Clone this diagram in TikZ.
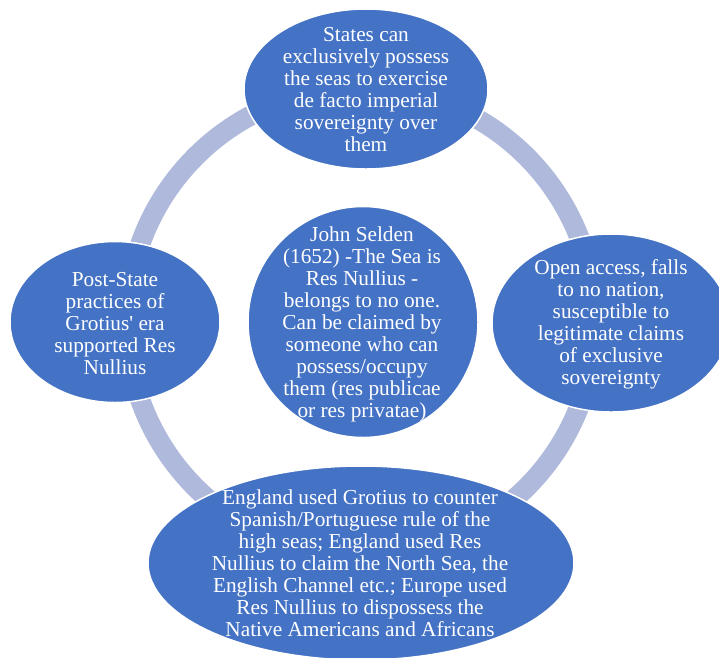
\documentclass[tikz,border=0pt]{standalone}
\usepackage{fontspec}
\setmainfont{Liberation Serif}
\usetikzlibrary{shapes.geometric}

\definecolor{bubbleblue}{HTML}{4472C4}
\definecolor{ringblue}{HTML}{AEB9DB}

\begin{document}
\begin{tikzpicture}[
    x=1pt, y=-1pt,
    bubble/.style={
      ellipse,
      fill=bubbleblue,
      draw=white,
      line width=1.5pt,
      inner sep=0pt
    },
    txt/.style={
      text=white,
      align=center,
      inner sep=0pt,
      font=\fontsize{21.3}{22}\selectfont
    },
    ring/.style={
      draw=ringblue,
      line width=20pt
    }
  ]

  \useasboundingbox (0,0) rectangle (719,657);

  % Vòng tròn nền
  \coordinate (hub) at (361,322);
  \draw[ring] (hub) circle[radius=234pt];

  % Các ellipse
  \node[bubble, minimum width=244pt, minimum height=160pt] (top) at (366,89) {};
  \node[bubble, minimum width=238pt, minimum height=178pt] (right) at (611,323) {};
  \node[bubble, minimum width=426pt, minimum height=194pt] (bottom) at (361,563) {};
  \node[bubble, minimum width=210pt, minimum height=161pt] (left) at (115,322) {};
  \node[bubble, minimum width=230pt, minimum height=231pt] (centre) at (363,322) {};

  % Chữ trong ellipse
  \node[txt] (toptext) at (366,90) {States can\\exclusively possess\\the seas to exercise\\de facto imperial\\sovereignty over\\them};
  \node[txt] (righttext) at (611,324) {Open access, falls\\to no nation,\\susceptible to\\legitimate claims\\of exclusive\\sovereignty};
  \node[txt] (bottomtext) at (360,563) {England used Grotius to counter\\Spanish/Portuguese rule of the\\high seas; England used Res\\Nullius to claim the North Sea, the\\English Channel etc.; Europe used\\Res Nullius to dispossess the\\Native Americans and Africans};
  \node[txt] (lefttext) at (115,324) {Post-State\\practices of\\Grotius\textquotesingle{} era\\supported Res\\Nullius};
  \node[txt] (centretext) at (362,324) {John Selden\\(1652) -The Sea is\\Res Nullius -\\belongs to no one.\\Can be claimed by\\someone who can\\possess/occupy\\them (res publicae\\or res privatae)};

\end{tikzpicture}
\end{document}
